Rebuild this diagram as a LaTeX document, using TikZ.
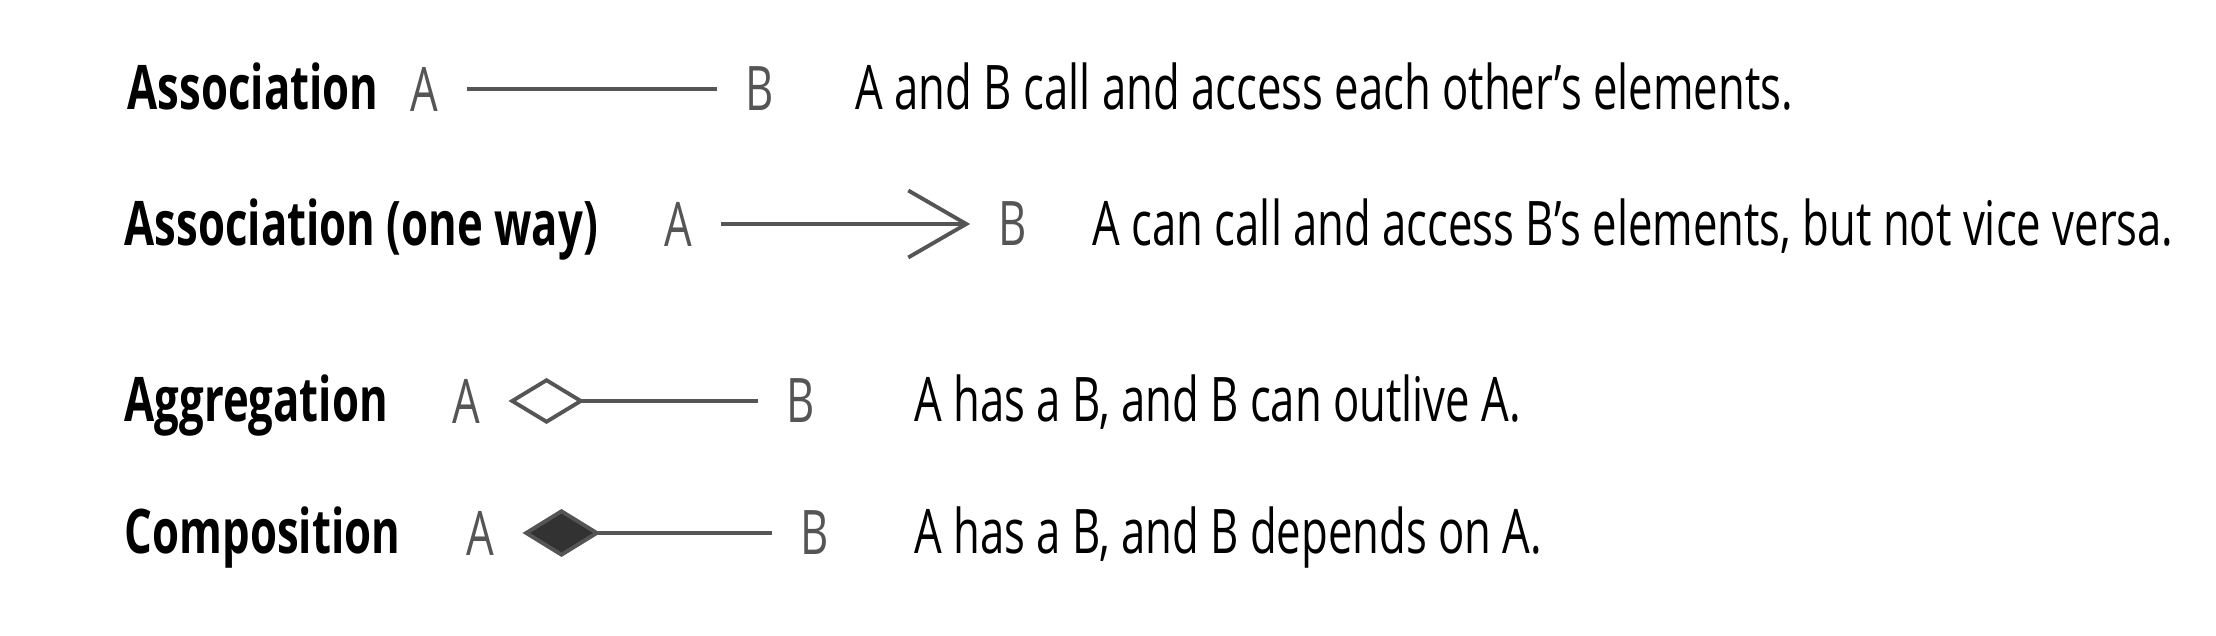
\documentclass[tikz,border=0pt]{standalone}
\usepackage{fontspec}
\setmainfont{Open Sans}[FakeStretch=0.71]
\usetikzlibrary{arrows.meta}

\definecolor{linegray}{RGB}{85,85,85}
\definecolor{fillgray}{RGB}{50,50,50}

\tikzstyle{kind} = [anchor=base west, inner sep=0pt, font=\fontsize{17.5}{20}\selectfont\bfseries]
\tikzstyle{party} = [inner xsep=0.28cm, inner ysep=0pt, text=linegray, font=\fontsize{17.5}{20}\selectfont]
\tikzstyle{meaning} = [anchor=base west, inner sep=0pt, font=\fontsize{17.5}{20}\selectfont]
\tikzstyle{link} = [draw=linegray, line width=1.1pt]

\begin{document}
\begin{tikzpicture}
	\useasboundingbox (0,0) rectangle (22.16,6.36);
	% association
	\node[kind] (k1) at (1.27,5.26) {Association};
	\node[party] (a1) at (4.24,5.47) {A};
	\node[party] (b1) at (7.60,5.47) {B};
	\node[meaning] (m1) at (8.55,5.26) {A and B call and access each other’s elements.};
	\draw[link] (a1) -- (b1);
	% association, one way
	\node[kind] (k2) at (1.24,3.90) {Association (one way)};
	\node[party] (a2) at (6.78,4.12) {A};
	\node[party] (b2) at (10.13,4.12) {B};
	\node[meaning] (m2) at (10.92,3.90) {A can call and access B’s elements, but not vice versa.};
	\draw[link, -{Straight Barb[length=0.58cm,width=0.67cm]}] (a2) -- (b2);
	% aggregation
	\node[kind] (k3) at (1.24,2.14) {Aggregation};
	\node[party] (a3) at (4.66,2.35) {A};
	\node[party] (b3) at (8.01,2.35) {B};
	\node[meaning] (m3) at (9.14,2.14) {A has a B, and B can outlive A.};
	\draw[link, {Diamond[open,length=0.76cm,width=0.46cm]}-] (a3) -- (b3);
	% composition
	\node[kind] (k4) at (1.24,0.82) {Composition};
	\node[party] (a4) at (4.80,1.03) {A};
	\node[party] (b4) at (8.15,1.03) {B};
	\node[meaning] (m4) at (9.14,0.82) {A has a B, and B depends on A.};
	\draw[link, {Diamond[fill=fillgray,length=0.78cm,width=0.48cm]}-] (a4) -- (b4);
\end{tikzpicture}
\end{document}
